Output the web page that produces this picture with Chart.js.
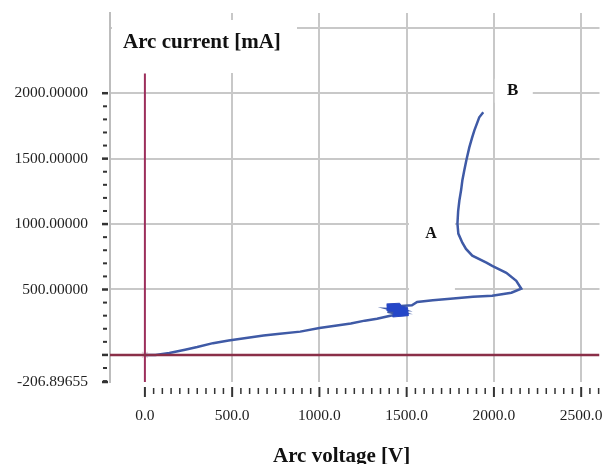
<!DOCTYPE html>
<html>
<head>
<meta charset="utf-8">
<script src="https://cdn.jsdelivr.net/npm/chart.js@4.4.0/dist/chart.umd.min.js"></script>
<style>
  html, body { margin: 0; padding: 0; background: #fff; overflow: hidden; }
</style>
</head>
<body>
<canvas id="grafico" width="605" height="464"></canvas>
<script>
// --- Curva: voltaje [V] y corriente [mA] ---
const voltaje = [0, 60, 140, 230, 300, 390, 480, 580, 680, 760, 890, 1000, 1100, 1180, 1260, 1330, 1400, 1450,
    1390, 1470, 1400, 1480, 1420, 1530,
    1560, 1650, 1750, 1880, 1990, 2100, 2157,
    2128, 2071, 1990, 1957, 1876, 1840, 1819, 1796, 1791, 1795, 1802, 1812, 1819, 1830, 1842, 1859, 1875, 1888, 1916, 1939];
const corriente = [0, 0, 15, 40, 60, 90, 110, 130, 148, 160, 178, 205, 225, 240, 262, 276, 298, 312,
    330, 325, 350, 345, 370, 380,
    405, 418, 430, 444, 452, 475, 506,
    567, 628, 680, 705, 759, 810, 858, 927, 1004, 1100, 1180, 1260, 1333, 1410, 1487, 1586, 1660, 1716, 1816, 1854];

// mancha azul densa cerca de 1450 V
const manchaV = [1385, 1460, 1470, 1505, 1510, 1420, 1425, 1385];
const manchaI = [390, 395, 372, 362, 300, 290, 330, 340];

// --- Ejes ---
const limitesX = [-200, 2605];
const limitesY = [-206.89655, 2613];
const ticksX = [0, 500, 1000, 1500, 2000, 2500];
const ticksY = [-206.89655, 0, 500, 1000, 1500, 2000, 2500];
const ticksYSinTexto = [0, 2500];

// Lineas rojas de V = 0 e I = 0
const lineaV0_x = [0, 0];
const lineaV0_y = [-206.89655, 2150];
const lineaI0_x = [-200, 2605];
const lineaI0_y = [0, 0];

// Etiquetas de texto dentro del grafico
const tituloY = 'Arc current [mA]';
const tituloX = 'Arc voltage [V]';
const etiquetas = ['A', 'B'];
const etiquetasV = [1639, 2108];
const etiquetasI = [923, 2019];

const serif = '"Liberation Serif", "Times New Roman", serif';
const grisGrid = '#c8c8c8';

function puntos(xs, ys) {
    return xs.map((x, i) => ({ x: x, y: ys[i] }));
}

// Cajas blancas detras de los textos (tapan la grilla)
const cajasBlancas = {
    id: 'cajasBlancas',
    beforeDatasetsDraw(chart) {
        const ctx = chart.ctx;
        const sx = chart.scales.x, sy = chart.scales.y;
        ctx.save();
        ctx.fillStyle = '#fff';
        // titulo
        ctx.fillRect(chart.chartArea.left + 2, chart.chartArea.top + 7, 185, 53);
        // A
        let ax = sx.getPixelForValue(etiquetasV[0]), ay = sy.getPixelForValue(etiquetasI[0]);
        ctx.fillRect(ax - 22, ay - 28, 46, 89);
        // B
        let bx = sx.getPixelForValue(etiquetasV[1]), by = sy.getPixelForValue(etiquetasI[1]);
        ctx.fillRect(bx - 18, by - 12, 38, 24);
        ctx.restore();
    }
};

// Ticks menores y textos
const textosYTicks = {
    id: 'textosYTicks',
    afterDraw(chart) {
        const ctx = chart.ctx;
        const area = chart.chartArea;
        const sx = chart.scales.x, sy = chart.scales.y;
        ctx.save();
        ctx.fillStyle = '#333';
        // ticks del eje X (debajo del area)
        for (let v = 0; v <= 2600; v += 50) {
            let px = sx.getPixelForValue(v);
            if (px > area.right) break;
            if (v % 500 === 0) ctx.fillRect(px - 1, area.bottom + 5, 2, 10);
            else ctx.fillRect(px - 0.75, area.bottom + 6, 1.5, 6);
        }
        // ticks del eje Y
        let valoresY = [-206.89655];
        for (let v = -200; v <= 2000; v += 100) valoresY.push(v);
        valoresY.forEach(v => {
            let py = sy.getPixelForValue(v);
            if (v % 500 === 0 || v < -200) ctx.fillRect(area.left - 8, py - 1.25, 6, 2.5);
            else ctx.fillRect(area.left - 7, py - 1, 4, 2);
        });

        // textos
        ctx.fillStyle = '#111';
        ctx.textAlign = 'left';
        ctx.textBaseline = 'alphabetic';
        ctx.font = 'bold 21px ' + serif;
        ctx.fillText(tituloY, area.left + 13, area.top + 35);
        ctx.fillText(tituloX, 273, 462);

        ctx.textAlign = 'center';
        ctx.textBaseline = 'middle';
        ctx.font = 'bold 16px ' + serif;
        ctx.fillText(etiquetas[0], sx.getPixelForValue(etiquetasV[0]), sy.getPixelForValue(etiquetasI[0]));
        ctx.font = 'bold 17px ' + serif;
        ctx.fillText(etiquetas[1], sx.getPixelForValue(etiquetasV[1]), sy.getPixelForValue(etiquetasI[1]));
        ctx.restore();
    }
};

const ctx = document.getElementById('grafico').getContext('2d');
new Chart(ctx, {
    type: 'scatter',
    data: {
        datasets: [
            { data: puntos(lineaI0_x, lineaI0_y), borderColor: '#8a2f48', borderWidth: 2.5, showLine: true, pointRadius: 0 },
            { data: puntos(lineaV0_x, lineaV0_y), borderColor: '#9c2f5c', borderWidth: 2, showLine: true, pointRadius: 0 },
            { data: puntos(manchaV, manchaI), borderColor: '#2a48c0', backgroundColor: '#2446c8', borderWidth: 1, showLine: true, fill: 'shape', pointRadius: 0 },
            { data: puntos(voltaje, corriente), borderColor: '#3f5aa6', borderWidth: 2.5, showLine: true, pointRadius: 0, tension: 0 },
            { data: [{ x: 0, y: 0 }], pointStyle: 'crossRot', pointRadius: 4, borderColor: '#e6d6dc', borderWidth: 1.5, showLine: false }
        ]
    },
    options: {
        responsive: false, animation: false,
        layout: { padding: { top: 13, right: 0, left: 0, bottom: 0 } },
        plugins: { legend: { display: false }, tooltip: { enabled: false } },
        scales: {
            x: {
                type: 'linear', min: limitesX[0], max: limitesX[1],
                afterBuildTicks: s => { s.ticks = ticksX.map(v => ({ value: v })); },
                afterFit: s => { s.height = 82; s.paddingLeft = 0; s.paddingRight = 0; },
                grid: { color: c => (c.tick && c.tick.value === 0) ? 'rgba(0,0,0,0)' : grisGrid, lineWidth: 2, drawTicks: false },
                border: { display: false },
                ticks: { autoSkip: false, maxRotation: 0, padding: 25, color: '#222', font: { family: serif, size: 15.5 },
                    callback: v => v.toFixed(1) }
            },
            y: {
                type: 'linear', min: limitesY[0], max: limitesY[1],
                afterBuildTicks: s => { s.ticks = ticksY.map(v => ({ value: v })); },
                afterFit: s => { s.width = 110; s.paddingTop = 0; s.paddingBottom = 0; },
                grid: { color: c => (c.tick && (c.tick.value <= 0)) ? 'rgba(0,0,0,0)' : grisGrid, lineWidth: 2, drawTicks: false },
                border: { display: true, color: '#bdbdbd', width: 2 },
                ticks: { autoSkip: false, padding: 22, color: '#222', font: { family: serif, size: 15.5 },
                    callback: v => ticksYSinTexto.includes(v) ? '' : v.toFixed(5) }
            }
        }
    },
    plugins: [cajasBlancas, textosYTicks]
});
</script>
</body>
</html>
